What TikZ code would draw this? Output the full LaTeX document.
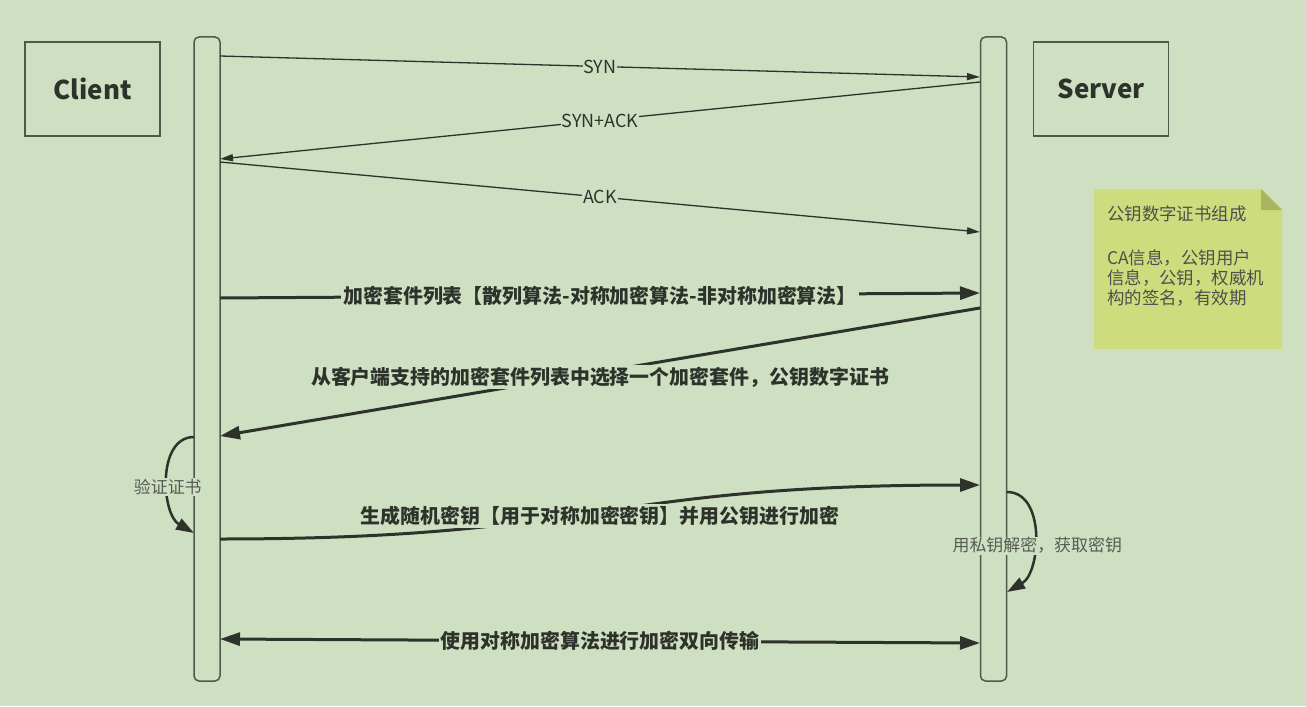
\documentclass[tikz,border=0pt]{standalone}
\usepackage{fontspec}
\newfontfamily\cjk{Noto Sans CJK SC}
\usetikzlibrary{arrows.meta}
\definecolor{bg}{RGB}{207,223,194}
\definecolor{ink}{RGB}{45,50,43}
\definecolor{edge}{RGB}{80,88,76}
\definecolor{memo}{RGB}{205,221,125}
\definecolor{memofold}{RGB}{168,182,98}
\begin{document}
\begin{tikzpicture}[x=1bp,y=-1bp,
    role/.style={draw=edge,line width=1.5bp,minimum width=135bp,minimum height=94bp,inner sep=0,text=ink,font=\cjk\fontsize{26}{30}\selectfont\bfseries},
    life/.style={draw=edge,line width=1.5bp,rounded corners=5bp,minimum width=26bp,minimum height=644bp,inner sep=0},
    msg/.style={draw=ink,line width=1.3bp,-{Triangle[length=13bp,width=7bp]}},
    tag/.style={fill=bg,inner sep=1bp,text=ink,font=\cjk\fontsize{18}{20}\selectfont},
    bigmsg/.style={draw=ink,line width=3bp,-{Triangle[length=20bp,width=13bp]}},
    bigtag/.style={fill=bg,inner sep=2bp,text=ink,font=\cjk\fontsize{20}{22}\selectfont\bfseries},
    selfmsg/.style={draw=ink,line width=2.5bp,-{Triangle[length=18bp,width=12bp]}},
    selftag/.style={fill=bg,inner sep=1bp,text=ink!80,font=\cjk\fontsize{17}{19}\selectfont},
    memotext/.style={inner sep=0,text=ink!85,font=\cjk\fontsize{17.5}{20}\selectfont}]
      \fill[bg] (0,0) rectangle (1306,706);
      \node[role] (client) at (92.5,89) {Client};
      \node[role] (server) at (1101,89) {Server};
      \node[life] (cl) at (207,359) {};
      \node[life] (sv) at (993.5,359) {};
      \coordinate (c1) at (220,56);
      \coordinate (s1) at (980,77);
      \coordinate (s2) at (980,82);
      \coordinate (c2) at (220,159);
      \coordinate (c3) at (220,162);
      \coordinate (s3) at (980,232);
      \coordinate (c4) at (220,298);
      \coordinate (s4) at (980,293);
      \coordinate (s5) at (980,308);
      \coordinate (c5) at (220,436);
      \coordinate (c6) at (220,539);
      \coordinate (s6) at (980,485);
      \coordinate (c7) at (220,639);
      \coordinate (s7) at (980,643);
      \coordinate (v1) at (194,437);
      \coordinate (v2) at (194,533);
      \coordinate (d1) at (1007,492);
      \coordinate (d2) at (1007,592);
      \begin{scope}
        \draw[msg] (c1) to node[tag] {SYN} (s1);
        \draw[msg] (s2) to node[tag] {SYN+ACK} (c2);
        \draw[msg] (c3) to node[tag] {ACK} (s3);
        \draw[bigmsg] (c4) to node[bigtag] {加密套件列表【散列算法-对称加密算法-非对称加密算法】} (s4);
        \draw[bigmsg] (s5) to node[bigtag,yshift=-5bp] {从客户端支持的加密套件列表中选择一个加密套件，公钥数字证书} (c5);
        \draw[bigmsg] (c6) .. controls (600,539) and (600,485) .. node[bigtag,yshift=-4bp] {生成随机密钥【用于对称加密密钥】并用公钥进行加密} (s6);
        \draw[bigmsg,{Triangle[length=20bp,width=13bp]}-{Triangle[length=20bp,width=13bp]}] (c7) to node[bigtag] {使用对称加密算法进行加密双向传输} (s7);
        \draw[selfmsg] (v1) to[out=180,in=150] node[selftag,yshift=-9bp] {验证证书} (v2);
        \draw[selfmsg] (d1) to[out=0,in=30] node[selftag,xshift=3bp,yshift=-11bp] {用私钥解密，获取密钥} (d2);
      \end{scope}
      \fill[memo] (1094,189) -- (1261,189) -- (1282,210) -- (1282,349) -- (1094,349) -- cycle;
      \fill[memofold] (1261,189) -- (1261,210) -- (1282,210) -- cycle;
      \node[memotext,anchor=west] (memohead) at (1107,214) {公钥数字证书组成};
      \node[memotext,anchor=west,align=left] (memobody) at (1107,278) {CA信息，公钥用户\\信息，公钥，权威机\\构的签名，有效期};
    \end{tikzpicture}
\end{document}
